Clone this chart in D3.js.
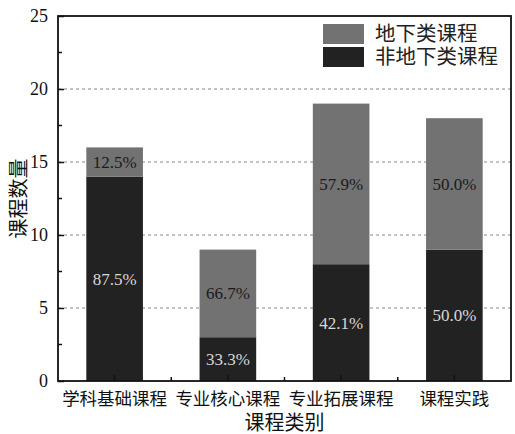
<!DOCTYPE html>
<html>
<head>
<meta charset="utf-8">
<script src="https://cdn.jsdelivr.net/npm/d3@7"></script>
<style>
  body { margin: 0; background: #fff; }
  text { font-family: "Liberation Serif", "Times New Roman", "Noto Sans CJK SC", serif; }
</style>
</head>
<body>
<script>
// categories and values
var categories = ["学科基础课程", "专业核心课程", "专业拓展课程", "课程实践"];
var nonUnderground = [14, 3, 8, 9];     // 非地下类课程 (bottom)
var underground = [2, 6, 11, 9];        // 地下类课程 (top)
var lowerLabels = ["87.5%", "33.3%", "42.1%", "50.0%"];
var upperLabels = ["12.5%", "66.7%", "57.9%", "50.0%"];
var seriesNames = ["地下类课程", "非地下类课程"];
var yTicks = [0, 5, 10, 15, 20, 25];

var svgWidth = 515, svgHeight = 434;
var margin = { top: 16, right: 4, bottom: 53, left: 58 };
var chartWidth = svgWidth - margin.left - margin.right;
var chartHeight = svgHeight - margin.top - margin.bottom;

var colorUpper = "#727272", colorLower = "#222222";
var serif = "'Liberation Serif', 'Times New Roman', serif";

var svg = d3.select("body").append("svg")
    .attr("width", svgWidth)
    .attr("height", svgHeight);

var chartGroup = svg.append("g")
    .attr("transform", `translate(${margin.left}, ${margin.top})`);

var xScale = d3.scaleBand()
    .domain(categories)
    .range([0, chartWidth])
    .paddingInner(0.5)
    .paddingOuter(0.25);

var yScale = d3.scaleLinear()
    .domain([0, 25])
    .range([chartHeight, 0]);

// dashed grid lines behind the bars
chartGroup.selectAll(".grid")
    .data(yTicks.filter(d => d > 0 && d < 25))
    .enter()
    .append("line")
    .attr("x1", 0)
    .attr("x2", chartWidth)
    .attr("y1", d => yScale(d))
    .attr("y2", d => yScale(d))
    .attr("stroke", "#888")
    .attr("stroke-width", 1)
    .attr("stroke-dasharray", "3,3");

var data = categories.map((c, i) => ({
    cat: c,
    lower: nonUnderground[i],
    upper: underground[i],
    lowerLabel: lowerLabels[i],
    upperLabel: upperLabels[i]
}));

// bottom part
chartGroup.selectAll(".barLower")
    .data(data)
    .enter()
    .append("rect")
    .attr("x", d => xScale(d.cat))
    .attr("width", xScale.bandwidth())
    .attr("y", d => yScale(d.lower))
    .attr("height", d => yScale(0) - yScale(d.lower))
    .attr("fill", colorLower);

// top part
chartGroup.selectAll(".barUpper")
    .data(data)
    .enter()
    .append("rect")
    .attr("x", d => xScale(d.cat))
    .attr("width", xScale.bandwidth())
    .attr("y", d => yScale(d.lower + d.upper))
    .attr("height", d => yScale(d.lower) - yScale(d.lower + d.upper))
    .attr("fill", colorUpper);

// percentage labels
chartGroup.selectAll(".lblLower")
    .data(data)
    .enter()
    .append("text")
    .attr("x", d => xScale(d.cat) + xScale.bandwidth() / 2)
    .attr("y", d => yScale(d.lower / 2))
    .attr("dy", "0.35em")
    .attr("text-anchor", "middle")
    .style("font-family", serif)
    .attr("font-size", 17)
    .attr("fill", "#d8d8d8")
    .text(d => d.lowerLabel);

chartGroup.selectAll(".lblUpper")
    .data(data)
    .enter()
    .append("text")
    .attr("x", d => xScale(d.cat) + xScale.bandwidth() / 2)
    .attr("y", d => yScale(d.lower + d.upper / 2))
    .attr("dy", "0.35em")
    .attr("text-anchor", "middle")
    .style("font-family", serif)
    .attr("font-size", 17)
    .attr("fill", "#1a1a1a")
    .text(d => d.upperLabel);

// y axis, ticks pointing inward
var leftAxis = d3.axisLeft(yScale)
    .tickValues(yTicks)
    .tickSize(-6)
    .tickPadding(10);

var yAxis = chartGroup.append("g").call(leftAxis);
yAxis.select(".domain").remove();
yAxis.selectAll("text")
    .style("font-family", serif)
    .attr("font-size", 18)
    .attr("fill", "#111");
yAxis.selectAll("line").attr("stroke", "#111").attr("stroke-width", 1.5);

// y minor ticks
chartGroup.selectAll(".yMinor")
    .data(d3.range(2.5, 25, 5))
    .enter()
    .append("line")
    .attr("x1", 0)
    .attr("x2", 4)
    .attr("y1", d => yScale(d))
    .attr("y2", d => yScale(d))
    .attr("stroke", "#111")
    .attr("stroke-width", 1.5);

// x axis, ticks pointing inward
var bottomAxis = d3.axisBottom(xScale)
    .tickSize(-6)
    .tickPadding(12);

var xAxis = chartGroup.append("g")
    .attr("transform", `translate(0, ${chartHeight})`)
    .call(bottomAxis);
xAxis.select(".domain").remove();
xAxis.selectAll("text")
    .attr("font-size", 17.5)
    .attr("fill", "#111");
xAxis.selectAll("line").attr("stroke", "#111").attr("stroke-width", 1.5);

// x minor ticks between categories
chartGroup.selectAll(".xMinor")
    .data(categories.slice(1))
    .enter()
    .append("line")
    .attr("x1", d => xScale(d) - xScale.step() * xScale.paddingInner() / 2)
    .attr("x2", d => xScale(d) - xScale.step() * xScale.paddingInner() / 2)
    .attr("y1", chartHeight)
    .attr("y2", chartHeight - 4)
    .attr("stroke", "#111")
    .attr("stroke-width", 1.5);

// frame
chartGroup.append("rect")
    .attr("x", 0)
    .attr("y", 0)
    .attr("width", chartWidth)
    .attr("height", chartHeight)
    .attr("fill", "none")
    .attr("stroke", "#111")
    .attr("stroke-width", 1.8);

// legend
var legend = chartGroup.append("g")
    .attr("transform", `translate(${chartWidth - 188}, 8)`);

legend.selectAll("rect")
    .data(seriesNames)
    .enter()
    .append("rect")
    .attr("x", 0)
    .attr("y", (d, i) => i * 23)
    .attr("width", 41)
    .attr("height", 20)
    .attr("fill", (d, i) => i === 0 ? colorUpper : colorLower);

legend.selectAll("text")
    .data(seriesNames)
    .enter()
    .append("text")
    .attr("x", 52)
    .attr("y", (d, i) => i * 23 + 10)
    .attr("dy", "0.36em")
    .attr("font-size", 20.5)
    .attr("fill", "#222")
    .text(d => d);

// axis titles
svg.append("text")
    .attr("transform", `translate(19, ${margin.top + chartHeight / 2}) rotate(-90)`)
    .attr("text-anchor", "middle")
    .attr("dy", "0.35em")
    .attr("font-size", 20)
    .attr("fill", "#111")
    .text("课程数量");

svg.append("text")
    .attr("x", margin.left + chartWidth / 2)
    .attr("y", 423)
    .attr("text-anchor", "middle")
    .attr("dy", "0.35em")
    .attr("font-size", 20)
    .attr("fill", "#111")
    .text("课程类别");
</script>
</body>
</html>
